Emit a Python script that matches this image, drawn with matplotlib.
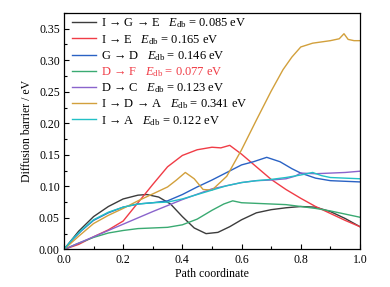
import matplotlib
matplotlib.use("Agg")
import matplotlib.pyplot as plt
from matplotlib.ticker import MultipleLocator, FormatStrFormatter

plt.rcParams['font.family'] = ['Liberation Serif', 'DejaVu Serif']
plt.rcParams['mathtext.fontset'] = 'custom'
plt.rcParams['mathtext.rm'] = 'Liberation Serif'
plt.rcParams['mathtext.it'] = 'Liberation Serif:italic'

# ---- data ----
t_black = [0, 0.05, 0.1, 0.15, 0.2, 0.25, 0.28, 0.32, 0.36, 0.4, 0.44, 0.48, 0.52, 0.56, 0.6, 0.65, 0.7, 0.75, 0.8, 0.85, 0.9, 0.95, 1.0]
v_black = [0, 0.029, 0.052, 0.068, 0.080, 0.086, 0.087, 0.083, 0.072, 0.052, 0.034, 0.025, 0.027, 0.036, 0.047, 0.058, 0.063, 0.066, 0.068, 0.067, 0.060, 0.049, 0.036]

t_red = [0, 0.05, 0.1, 0.15, 0.2, 0.25, 0.3, 0.35, 0.4, 0.45, 0.5, 0.53, 0.56, 0.6, 0.65, 0.7, 0.75, 0.8, 0.85, 0.9, 0.95, 1.0]
v_red = [0, 0.008, 0.020, 0.031, 0.045, 0.074, 0.103, 0.131, 0.149, 0.158, 0.162, 0.161, 0.165, 0.151, 0.131, 0.111, 0.095, 0.081, 0.068, 0.057, 0.046, 0.036]

t_blue = [0, 0.03, 0.06, 0.1, 0.15, 0.2, 0.25, 0.3, 0.35, 0.4, 0.45, 0.5, 0.55, 0.6, 0.64, 0.685, 0.73, 0.77, 0.8, 0.85, 0.9, 0.95, 1.0]
v_blue = [0, 0.016, 0.030, 0.046, 0.058, 0.067, 0.072, 0.074, 0.077, 0.087, 0.099, 0.110, 0.122, 0.134, 0.139, 0.146, 0.139, 0.128, 0.121, 0.113, 0.109, 0.108, 0.107]

t_green = [0, 0.05, 0.1, 0.15, 0.2, 0.25, 0.3, 0.35, 0.4, 0.45, 0.5, 0.54, 0.57, 0.6, 0.65, 0.7, 0.75, 0.8, 0.85, 0.9, 0.95, 1.0]
v_green = [0, 0.010, 0.019, 0.026, 0.030, 0.033, 0.034, 0.035, 0.039, 0.048, 0.062, 0.072, 0.077, 0.074, 0.073, 0.072, 0.071, 0.068, 0.065, 0.061, 0.056, 0.051]

t_purple = [0, 0.1, 0.2, 0.3, 0.4, 0.5, 0.6, 0.65, 0.7, 0.75, 0.78, 0.8, 0.85, 0.9, 0.95, 1.0]
v_purple = [0, 0.020, 0.040, 0.060, 0.079, 0.096, 0.106, 0.109, 0.110, 0.112, 0.116, 0.121, 0.120, 0.121, 0.122, 0.124]

t_orange = [0, 0.05, 0.1, 0.15, 0.2, 0.25, 0.3, 0.35, 0.38, 0.41, 0.44, 0.47, 0.5, 0.55, 0.6, 0.65, 0.7, 0.74, 0.77, 0.8, 0.84, 0.9, 0.93, 0.946, 0.96, 0.98, 1.0]
v_orange = [0, 0.021, 0.041, 0.054, 0.065, 0.077, 0.088, 0.099, 0.110, 0.122, 0.112, 0.095, 0.094, 0.116, 0.158, 0.205, 0.251, 0.285, 0.305, 0.321, 0.327, 0.331, 0.334, 0.342, 0.333, 0.331, 0.331]

t_cyan = [0, 0.03, 0.06, 0.1, 0.15, 0.2, 0.25, 0.3, 0.35, 0.4, 0.45, 0.5, 0.55, 0.6, 0.65, 0.7, 0.75, 0.8, 0.84, 0.87, 0.9, 0.95, 1.0]
v_cyan = [0, 0.017, 0.031, 0.047, 0.059, 0.067, 0.072, 0.074, 0.075, 0.080, 0.087, 0.094, 0.101, 0.106, 0.109, 0.111, 0.114, 0.118, 0.122, 0.117, 0.114, 0.113, 0.112]

labels = [
    r'I → G → E   $E_{\rm db}$ = 0.085 eV',
    r'I → E   $E_{\rm db}$ = 0.165 eV',
    r'G → D   $E_{\rm db}$ = 0.146 eV',
    r'D → F   $E_{\rm db}$ = 0.077 eV',
    r'D → C   $E_{\rm db}$ = 0.123 eV',
    r'I → D → A   $E_{\rm db}$ = 0.341 eV',
    r'I → A   $E_{\rm db}$ = 0.122 eV',
]
colors = ['#3c3c3c', '#f03c46', '#2a62c4', '#3aaa72', '#8a64cc', '#d2a03c', '#22c0c6']

series = [(t_black, v_black), (t_red, v_red), (t_blue, v_blue), (t_green, v_green),
          (t_purple, v_purple), (t_orange, v_orange), (t_cyan, v_cyan)]

fig = plt.figure(figsize=(3.9, 2.87), dpi=100)
ax = fig.add_axes([0.164, 0.131, 0.759, 0.824])

for (t, v), c, lab in zip(series, colors, labels):
    ax.plot(t, v, color=c, lw=1.0, label=lab)

ax.set_xlim(0, 1.0)
ax.set_ylim(0, 0.375)
ax.xaxis.set_major_locator(MultipleLocator(0.2))
ax.xaxis.set_minor_locator(MultipleLocator(0.1))
ax.yaxis.set_major_locator(MultipleLocator(0.05))
ax.yaxis.set_minor_locator(MultipleLocator(0.025))
ax.xaxis.set_major_formatter(FormatStrFormatter('%.1f'))
ax.yaxis.set_major_formatter(FormatStrFormatter('%.2f'))
ax.tick_params(which='both', direction='in', top=False, right=False, labelsize=8.5, pad=3)
ax.tick_params(which='major', length=3.5, width=0.8)
ax.tick_params(which='minor', length=2.5, width=0.8)
for s in ax.spines.values():
    s.set_linewidth(0.9)

ax.set_xlabel('Path coordinate', fontsize=8.5, labelpad=2)
ax.set_ylabel('Diffusion barrier / eV', fontsize=8.5, labelpad=4)

leg = ax.legend(loc='upper left', frameon=False, fontsize=9, handlelength=1.9,
                handletextpad=0.4, labelspacing=0.19, borderaxespad=0.0, borderpad=0.3,
                bbox_to_anchor=(0.016, 1.0))
leg.get_texts()[3].set_color(colors[1])

fig.savefig('out.png', dpi=100)
